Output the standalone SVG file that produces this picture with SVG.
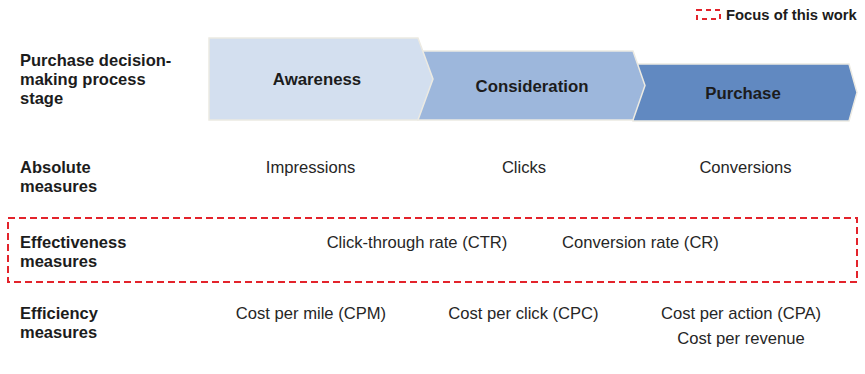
<svg xmlns="http://www.w3.org/2000/svg" width="865" height="374" viewBox="0 0 865 374">
<style>
  text { font-family: "Liberation Sans", Arial, sans-serif; fill: #1c1c1c; }
  .lbl { font-size: 16.5px; font-weight: bold; }
  .stage { font-size: 16.8px; font-weight: bold; text-anchor: middle; }
  .val { font-size: 16.6px; text-anchor: middle; fill: #262626; }
  .chev { stroke: #ECEAE2; stroke-width: 1.5; }
  .focus { fill: none; stroke: #E3232B; stroke-width: 2; stroke-dasharray: 7 4; }
</style>
<rect width="865" height="374" fill="#ffffff"/>

<g id="legend">
  <rect x="697" y="10" width="23" height="9" fill="none" stroke="#E3232B" stroke-width="2" stroke-dasharray="5 4"/>
  <text x="726" y="20" style="font-size:14.8px;font-weight:bold">Focus of this work</text>
</g>

<g id="row-labels">
  <text class="lbl" x="20" y="66">Purchase decision-</text>
  <text class="lbl" x="20" y="85">making process</text>
  <text class="lbl" x="20" y="104">stage</text>
  <text class="lbl" x="20" y="173">Absolute</text>
  <text class="lbl" x="20" y="192">measures</text>
  <text class="lbl" x="20" y="248">Effectiveness</text>
  <text class="lbl" x="20" y="267">measures</text>
  <text class="lbl" x="20" y="319">Efficiency</text>
  <text class="lbl" x="20" y="338">measures</text>
</g>

<g id="purchase">
  <polygon class="chev" fill="#6189C1" points="633,64 849,64 857,92.5 849,121 633,121"/>
  <text class="stage" x="743" y="99">Purchase</text>
</g>
<g id="consideration">
  <polygon class="chev" fill="#9DB7DC" points="418,51 633,51 645,85.5 633,120 418,120"/>
  <text class="stage" x="532" y="92">Consideration</text>
</g>
<g id="awareness">
  <polygon class="chev" fill="#D3DFEF" points="209,38 418,38 433,79 418,120 209,120"/>
  <text class="stage" x="317" y="85">Awareness</text>
</g>

<g id="absolute">
  <text class="val" x="310.5" y="173">Impressions</text>
  <text class="val" x="524" y="173">Clicks</text>
  <text class="val" x="745.5" y="173">Conversions</text>
</g>

<g id="effectiveness">
  <rect class="focus" x="8" y="218" width="849" height="64"/>
  <text class="val" x="417" y="248">Click-through rate (CTR)</text>
  <text class="val" x="640.5" y="248">Conversion rate (CR)</text>
</g>

<g id="efficiency">
  <text class="val" x="311" y="319">Cost per mile (CPM)</text>
  <text class="val" x="523.5" y="319">Cost per click (CPC)</text>
  <text class="val" x="741" y="319">Cost per action (CPA)</text>
  <text class="val" x="741" y="344">Cost per revenue</text>
</g>
</svg>
